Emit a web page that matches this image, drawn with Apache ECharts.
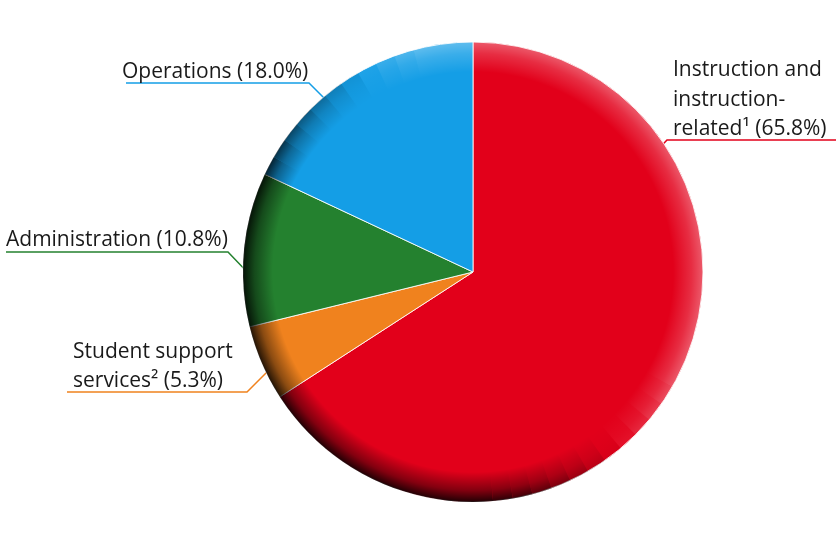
<!DOCTYPE html>
<html>
<head>
<meta charset="utf-8">
<script src="https://cdn.jsdelivr.net/npm/echarts@6/dist/echarts.min.js"></script>
<style>
  html, body { margin: 0; padding: 0; background: #fff; }
  #main { width: 840px; height: 539px; }
</style>
</head>
<body>
<div id="main"></div>
<script>
// data (percent of total), clockwise from 12 o'clock
var categories = ['Instruction and\ninstruction-\nrelated¹', 'Student support\nservices²', 'Administration', 'Operations'];
var shares = [65.8, 5.3, 10.8, 18.0];

// styles
var sliceColors = ['#e2001a', '#f0821e', '#24812f', '#149ee6'];
// rim lighting as [degrees, shade] runs clockwise from the top (+ light, - dark)
var rimArcs = [
  [120, 0.35], [5, 0.3], [5, 0.24], [5, 0.16], [5, 0.07], [5, -0.05], [5, -0.18],
  [5, -0.32], [5, -0.46], [5, -0.6], [5, -0.72], [5, -0.8], [120, -0.85],
  [5, -0.78], [5, -0.68], [5, -0.56], [5, -0.44], [5, -0.32], [5, -0.2],
  [5, -0.08], [5, 0.05], [5, 0.16], [5, 0.25], [15, 0.32]
];

var cx = 473, cy = 272, R = 230;

// where each label sits (bottom-left of the text) and how its leader line runs
var labelSpots = [
  { x: 673, y: 144, line: [[645, 163], [667, 140], [836, 140]] },
  { x: 73,  y: 396, line: [[272, 367], [247, 392], [67, 392]] },
  { x: 6,   y: 255, line: [[251, 276], [228, 252], [6, 252]] },
  { x: 122, y: 87,  line: [[339, 113], [309, 83], [126, 83]] }
];

function rimGradient(a) {
  var c = a >= 0 ? '255,255,255' : '0,0,0';
  var k = Math.abs(a);
  return {
    type: 'radial', x: cx, y: cy, r: R, global: true,
    colorStops: [
      { offset: 0, color: 'rgba(' + c + ',0)' },
      { offset: 0.87, color: 'rgba(' + c + ',0)' },
      { offset: 0.95, color: 'rgba(' + c + ',' + (k * 0.5) + ')' },
      { offset: 1, color: 'rgba(' + c + ',' + k + ')' }
    ]
  };
}

var myChart = echarts.init(document.getElementById('main'));

myChart.setOption({
  animation: false,
  series: [
    {
      type: 'pie',
      center: [cx, cy],
      radius: R,
      startAngle: 90,
      clockwise: true,
      silent: true,
      itemStyle: { borderColor: 'rgba(255,255,255,0.85)', borderWidth: 1 },
      label: {
        show: true,
        color: '#1a1a1a',
        fontFamily: 'Open Sans',
        fontWeight: 500,
        fontSize: 21,
        lineHeight: 29.5,
        align: 'left',
        overflow: 'none',
        formatter: function (p) { return p.name + ' (' + p.value.toFixed(1) + '%)'; }
      },
      labelLine: { show: true, lineStyle: { width: 1.5 } },
      labelLayout: function (p) {
        var s = labelSpots[p.dataIndex];
        return {
          x: s.x, y: s.y, align: 'left', verticalAlign: 'bottom',
          labelLinePoints: s.line
        };
      },
      data: categories.map(function (name, i) {
        return {
          name: name,
          value: shares[i],
          itemStyle: { color: sliceColors[i] },
          labelLine: { lineStyle: { color: sliceColors[i] } }
        };
      })
    },
    {
      // shading overlay for the 3D rim
      type: 'pie',
      center: [cx, cy],
      radius: R,
      startAngle: 90,
      clockwise: true,
      silent: true,
      label: { show: false },
      labelLine: { show: false },
      itemStyle: { borderWidth: 0 },
      data: rimArcs.map(function (r) {
        return { value: r[0], itemStyle: { color: rimGradient(r[1]) } };
      })
    }
  ]
});
</script>
</body>
</html>
